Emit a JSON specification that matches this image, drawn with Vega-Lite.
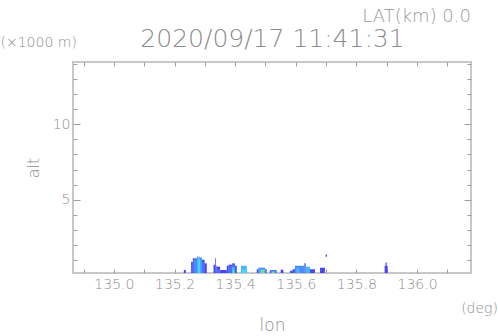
{
  "$schema": "https://vega.github.io/schema/vega-lite/v6.json",
  "width": 398,
  "height": 211,
  "autosize": "none",
  "padding": {"left": 73, "top": 62, "right": 27, "bottom": 63},
  "background": "white",
  "title": {"text": "LAT(km) 0.0", "anchor": "end", "frame": "group", "fontSize": 18, "fontWeight": 200, "color": "#9a9a9a", "offset": 1},
  "datasets": {
    "echo": [
      {"x0": 135.2306, "x1": 135.2372, "y0": 0.15, "y1": 0.35, "c": "c1"},
      {"x0": 135.2547, "x1": 135.2603, "y0": 0.15, "y1": 0.90, "c": "c1"},
      {"x0": 135.2603, "x1": 135.2735, "y0": 0.15, "y1": 1.12, "c": "c1"},
      {"x0": 135.2620, "x1": 135.2735, "y0": 0.15, "y1": 1.04, "c": "c3"},
      {"x0": 135.2735, "x1": 135.2790, "y0": 0.15, "y1": 1.23, "c": "c3"},
      {"x0": 135.2740, "x1": 135.2790, "y0": 0.15, "y1": 1.12, "c": "c4"},
      {"x0": 135.2790, "x1": 135.2844, "y0": 0.15, "y1": 1.23, "c": "c4"},
      {"x0": 135.2795, "x1": 135.2840, "y0": 0.15, "y1": 1.10, "c": "c5"},
      {"x0": 135.2844, "x1": 135.2900, "y0": 0.15, "y1": 1.18, "c": "c2"},
      {"x0": 135.2848, "x1": 135.2900, "y0": 0.15, "y1": 1.05, "c": "c4"},
      {"x0": 135.2900, "x1": 135.2988, "y0": 0.15, "y1": 1.03, "c": "c1"},
      {"x0": 135.2905, "x1": 135.2988, "y0": 0.15, "y1": 0.90, "c": "c2"},
      {"x0": 135.2988, "x1": 135.3064, "y0": 0.15, "y1": 0.79, "c": "c1"},
      {"x0": 135.3285, "x1": 135.3338, "y0": 0.15, "y1": 0.70, "c": "c1"},
      {"x0": 135.3338, "x1": 135.3362, "y0": 0.15, "y1": 1.12, "c": "c1"},
      {"x0": 135.3362, "x1": 135.3384, "y0": 0.15, "y1": 0.65, "c": "c1"},
      {"x0": 135.3384, "x1": 135.3503, "y0": 0.15, "y1": 0.57, "c": "c1"},
      {"x0": 135.3390, "x1": 135.3500, "y0": 0.15, "y1": 0.40, "c": "c2"},
      {"x0": 135.3503, "x1": 135.3723, "y0": 0.15, "y1": 0.35, "c": "c1"},
      {"x0": 135.3723, "x1": 135.3779, "y0": 0.15, "y1": 0.63, "c": "c1"},
      {"x0": 135.3779, "x1": 135.3888, "y0": 0.15, "y1": 0.70, "c": "c1"},
      {"x0": 135.3785, "x1": 135.3888, "y0": 0.15, "y1": 0.58, "c": "c2"},
      {"x0": 135.3888, "x1": 135.3997, "y0": 0.15, "y1": 0.79, "c": "c2"},
      {"x0": 135.3895, "x1": 135.3990, "y0": 0.15, "y1": 0.55, "c": "c4"},
      {"x0": 135.3915, "x1": 135.3970, "y0": 0.15, "y1": 0.35, "c": "c5"},
      {"x0": 135.3997, "x1": 135.4053, "y0": 0.15, "y1": 0.63, "c": "c1"},
      {"x0": 135.4194, "x1": 135.4382, "y0": 0.15, "y1": 0.63, "c": "c4"},
      {"x0": 135.4230, "x1": 135.4340, "y0": 0.15, "y1": 0.35, "c": "c5"},
      {"x0": 135.4712, "x1": 135.4767, "y0": 0.15, "y1": 0.40, "c": "c1"},
      {"x0": 135.4767, "x1": 135.4986, "y0": 0.15, "y1": 0.50, "c": "c2"},
      {"x0": 135.4790, "x1": 135.4986, "y0": 0.15, "y1": 0.44, "c": "c4"},
      {"x0": 135.4854, "x1": 135.4960, "y0": 0.15, "y1": 0.35, "c": "c6"},
      {"x0": 135.4986, "x1": 135.5041, "y0": 0.15, "y1": 0.40, "c": "c2"},
      {"x0": 135.5140, "x1": 135.5370, "y0": 0.15, "y1": 0.35, "c": "c2"},
      {"x0": 135.5190, "x1": 135.5320, "y0": 0.15, "y1": 0.30, "c": "c4"},
      {"x0": 135.5220, "x1": 135.5290, "y0": 0.15, "y1": 0.22, "c": "c6"},
      {"x0": 135.5502, "x1": 135.5590, "y0": 0.15, "y1": 0.37, "c": "c1"},
      {"x0": 135.5810, "x1": 135.5890, "y0": 0.15, "y1": 0.30, "c": "c1"},
      {"x0": 135.5890, "x1": 135.5970, "y0": 0.15, "y1": 0.40, "c": "c1"},
      {"x0": 135.5970, "x1": 135.6280, "y0": 0.15, "y1": 0.63, "c": "c3"},
      {"x0": 135.6010, "x1": 135.6120, "y0": 0.15, "y1": 0.50, "c": "c4"},
      {"x0": 135.6280, "x1": 135.6330, "y0": 0.15, "y1": 0.79, "c": "c2"},
      {"x0": 135.6330, "x1": 135.6470, "y0": 0.15, "y1": 0.57, "c": "c4"},
      {"x0": 135.6470, "x1": 135.6630, "y0": 0.15, "y1": 0.40, "c": "c1"},
      {"x0": 135.6800, "x1": 135.6960, "y0": 0.15, "y1": 0.50, "c": "c1"},
      {"x0": 135.6985, "x1": 135.7030, "y0": 1.23, "y1": 1.38, "c": "c1"},
      {"x0": 135.8930, "x1": 135.9030, "y0": 0.15, "y1": 0.63, "c": "c1"},
      {"x0": 135.8960, "x1": 135.9000, "y0": 0.63, "y1": 0.85, "c": "c1"}
    ],
    "units": [{"t": "(deg)"}]
  },
  "layer": [
    {
      "data": {"name": "echo"},
      "mark": {"type": "rect"},
      "encoding": {
        "x": {"field": "x0", "type": "quantitative", "scale": {"domain": [134.865, 136.178], "nice": false, "zero": false},
          "axis": {"orient": "bottom", "values": [134.9, 135.0, 135.1, 135.2, 135.3, 135.4, 135.5, 135.6, 135.7, 135.8, 135.9, 136.0, 136.1],
            "labelExpr": "abs(round(datum.value*10)) % 2 === 0 ? format(datum.value, '.1f') : ''",
            "tickSize": -4, "labelPadding": 8, "title": "lon", "titleFontSize": 17, "titlePadding": 26}},
        "x2": {"field": "x1"},
        "y": {"field": "y0", "type": "quantitative", "scale": {"domain": [0.15, 14.12], "nice": false, "zero": false},
          "axis": {"orient": "left", "values": [1,2,3,4,5,6,7,8,9,10,11,12,13,14],
            "labelExpr": "datum.value % 5 === 0 ? datum.label : ''",
            "tickSize": {"condition": {"test": "datum.value % 5 === 0", "value": -7}, "value": -4},
            "labelPadding": 10, "title": "alt", "titleFontSize": 16, "titlePadding": 11}},
        "y2": {"field": "y1"},
        "color": {"field": "c", "type": "nominal", "legend": null,
          "scale": {"domain": ["c1", "c2", "c3", "c4", "c5", "c6"], "range": ["#4646f5", "#4a6cff", "#4a8cff", "#46b4ff", "#3ce6f0", "#6ee682"]}}
      }
    },
    {
      "data": {"name": "echo"},
      "mark": {"type": "point", "opacity": 0},
      "encoding": {
        "x": {"field": "x0", "type": "quantitative",
          "axis": {"orient": "top", "values": [134.9, 135.0, 135.1, 135.2, 135.3, 135.4, 135.5, 135.6, 135.7, 135.8, 135.9, 136.0, 136.1],
            "labels": false, "tickSize": -4, "title": "2020/09/17 11:41:31", "titleFontSize": 25, "titlePadding": 10}},
        "y": {"field": "y1", "type": "quantitative",
          "axis": {"orient": "right", "values": [1,2,3,4,5,6,7,8,9,10,11,12,13,14], "labels": false,
            "tickSize": {"condition": {"test": "datum.value % 5 === 0", "value": -7}, "value": -4},
            "title": "(×1000 m)", "titleAngle": 0, "titleAlign": "left", "titleBaseline": "alphabetic",
            "titleX": -471, "titleY": -16, "titleFontSize": 14}}
      }
    },
    {
      "data": {"name": "units"},
      "mark": {"type": "text", "align": "right", "baseline": "alphabetic", "fontSize": 14, "fontWeight": 200, "color": "#8c8c8c"},
      "encoding": {
        "text": {"field": "t"},
        "x": {"datum": 136.267, "type": "quantitative", "axis": null},
        "y": {"datum": -2.47, "type": "quantitative", "axis": null}
      }
    }
  ],
  "resolve": {"axis": {"x": "independent", "y": "independent"}},
  "config": {
    "font": "DejaVu Sans",
    "view": {"stroke": "#c8c8c8", "strokeWidth": 2},
    "axis": {
      "domain": false, "grid": false, "tickColor": "#a0a0a0", "tickWidth": 1,
      "labelFont": "DejaVu Sans", "labelFontSize": 14, "labelFontWeight": 200, "labelColor": "#8c8c8c",
      "titleFont": "DejaVu Sans", "titleFontWeight": 200, "titleColor": "#8c8c8c"
    },
    "title": {"font": "DejaVu Sans"}
  }
}
